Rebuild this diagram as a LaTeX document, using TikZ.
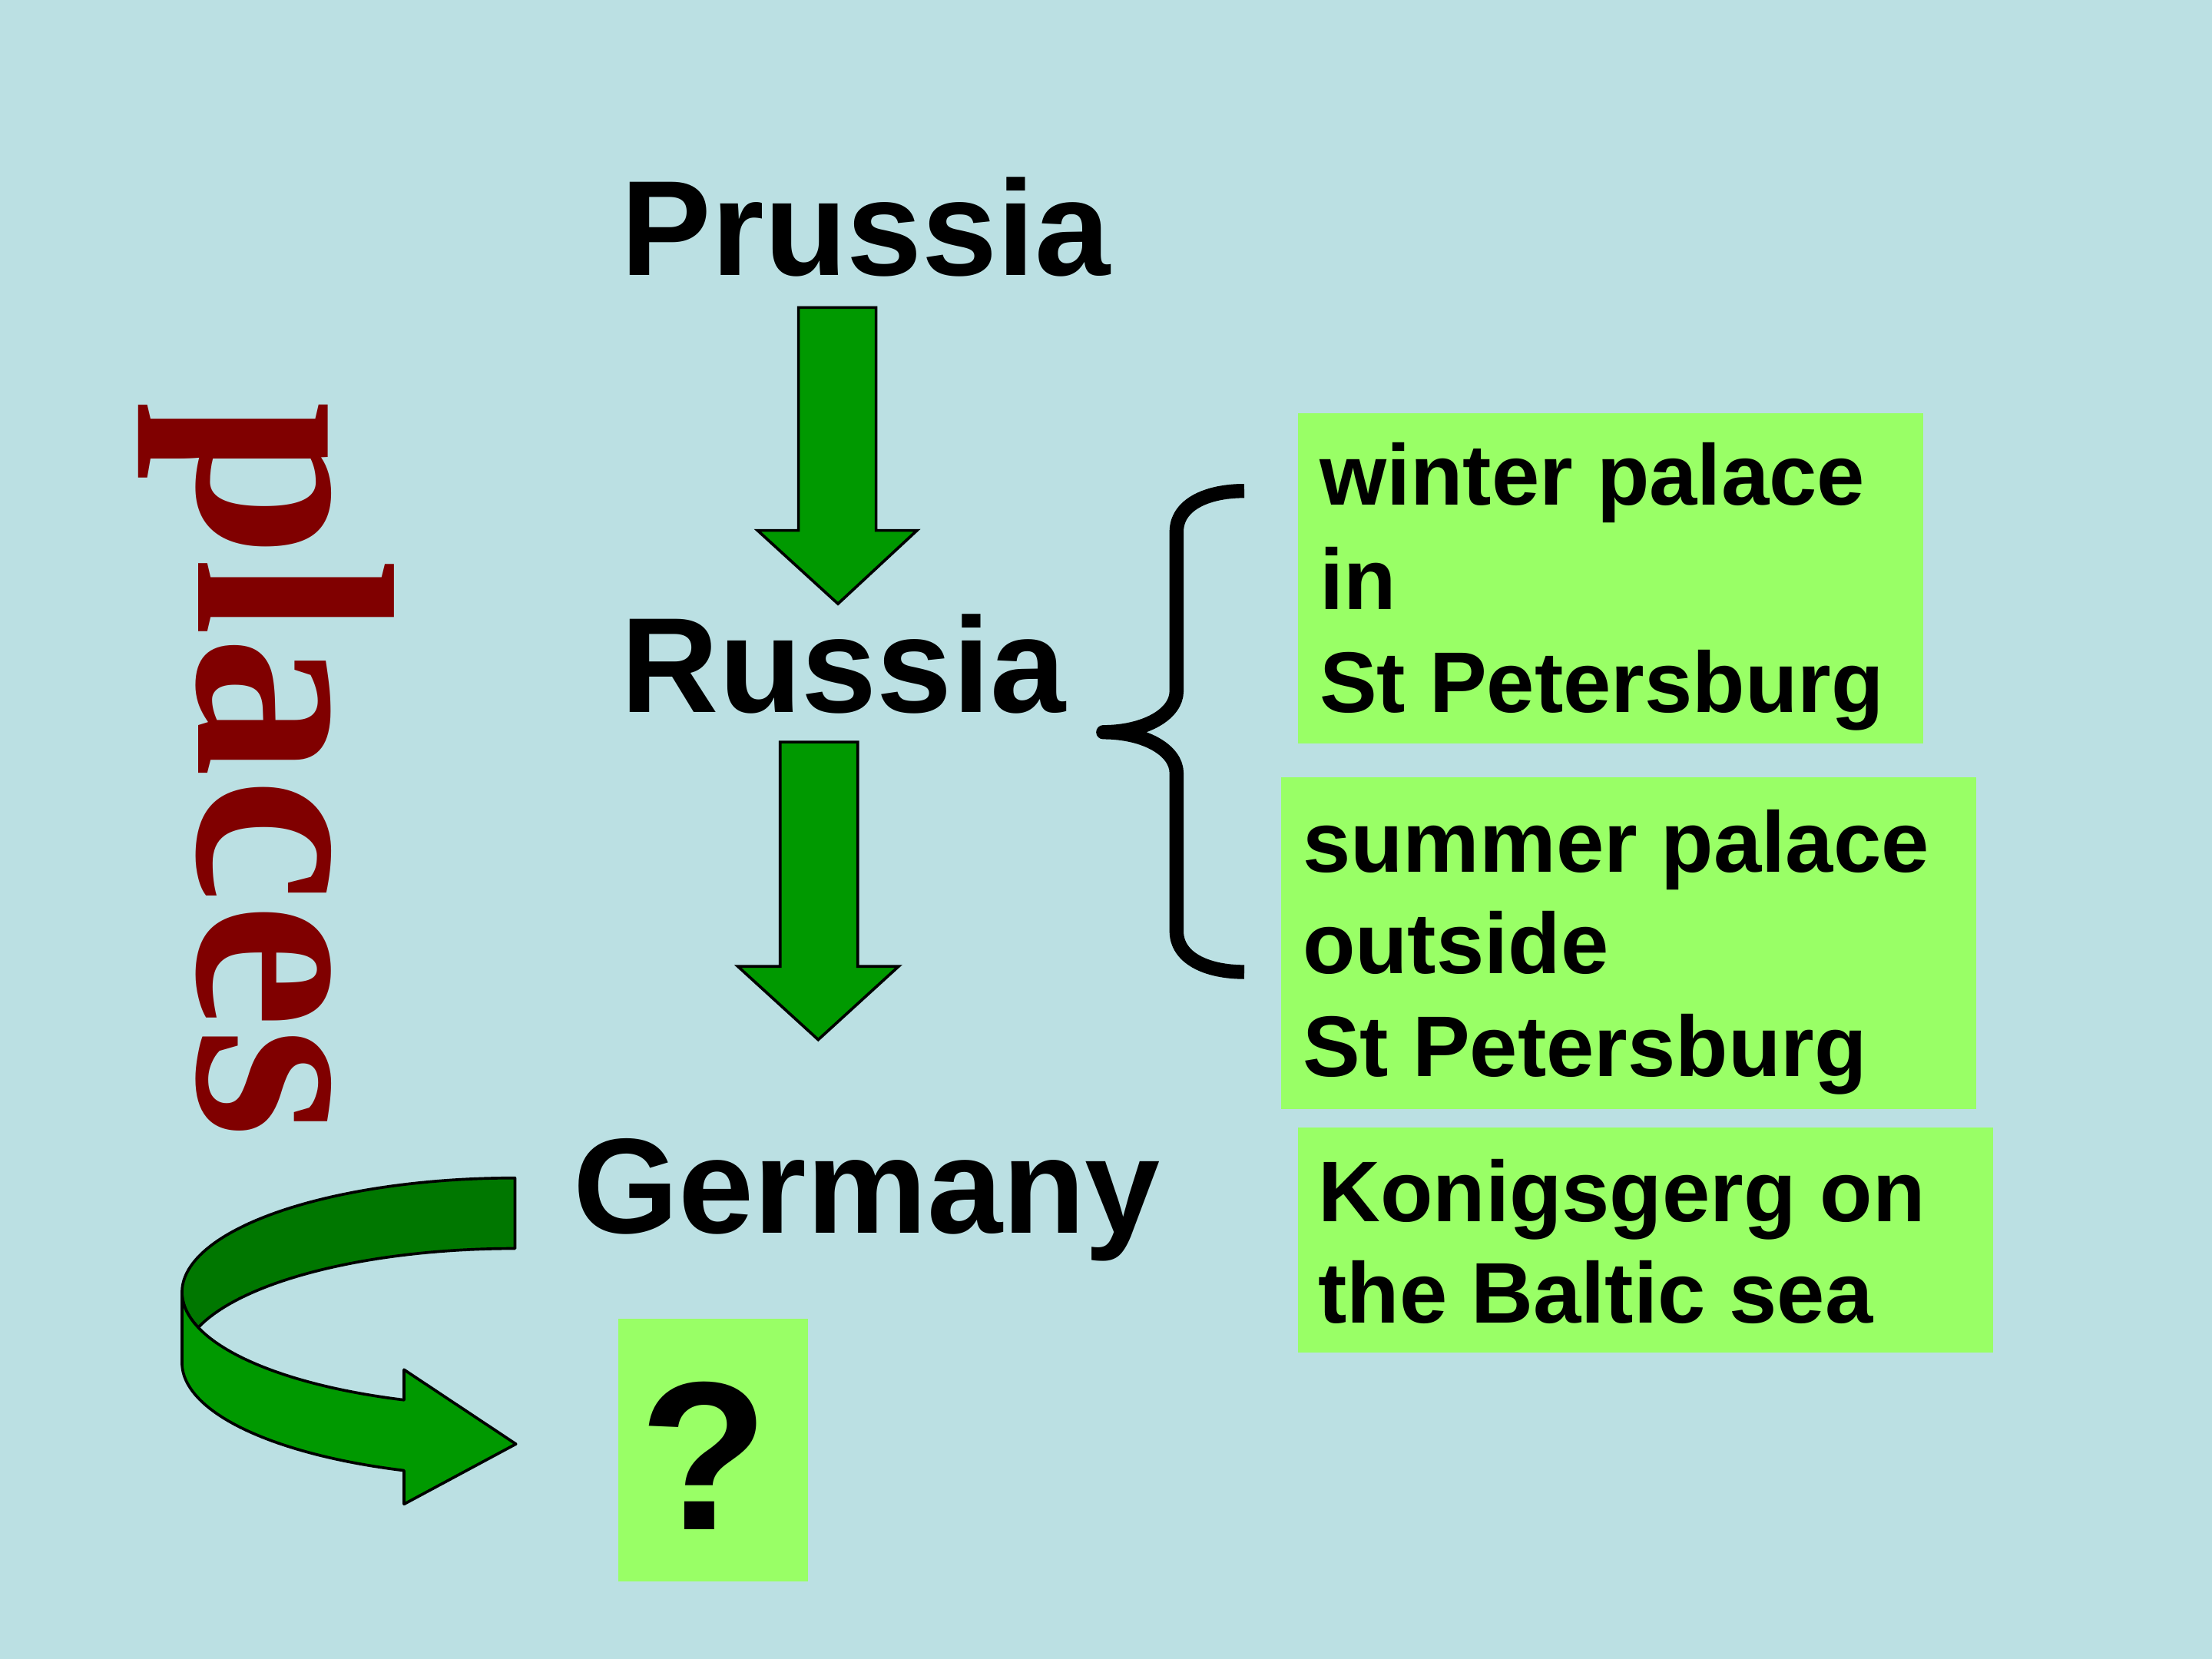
\documentclass[tikz,border=0pt]{standalone}
\usepackage{fontspec}
\setmainfont{Liberation Sans}
\newfontfamily\placesfont{Liberation Serif}
\definecolor{bgc}{HTML}{BBE0E3}
\definecolor{boxgreen}{HTML}{99FF66}
\definecolor{arrowgreen}{HTML}{009900}
\definecolor{darkgreen}{HTML}{007700}
\definecolor{placesred}{HTML}{800000}
\tikzset{
  title/.style={inner sep=0pt, anchor=base west, font=\fontsize{48}{48}\selectfont\bfseries},
  boxtext/.style={inner sep=0pt, anchor=base west, font=\fontsize{30.5}{36.5}\selectfont\bfseries},
  greenbox/.style={fill=boxgreen},
  blockarrow/.style={fill=arrowgreen, draw=black, line width=1pt, line join=miter},
  bandlight/.style={fill=arrowgreen, draw=black, line width=1pt, line join=round},
  banddark/.style={fill=darkgreen, draw=black, line width=1pt, line join=round},
  bracestyle/.style={draw=black, line width=5pt, line join=round, line cap=butt}
}
\begin{document}
\begin{tikzpicture}[x=0.5pt,y=-0.5pt]
\useasboundingbox (0,0) rectangle (1568,1176);
\fill[bgc] (0,0) rectangle (1568,1176);

% titles
\node[title] (prussia) at (440,195) {Prussia};
\node[title] (russia) at (440,505) {Russia};
\node[title] (germany) at (406,874) {Germany};

% block arrows
\filldraw[blockarrow] (566,218) -- (621,218) -- (621,376) -- (650,376) -- (594,428) -- (537,376) -- (566,376) -- cycle;
\filldraw[blockarrow] (553,526) -- (608,526) -- (608,685) -- (637,685) -- (580,737) -- (523,685) -- (553,685) -- cycle;

% brace
\coordinate (bracetop) at (882,348);
\coordinate (bracetip) at (782,519);
\coordinate (bracebot) at (882,689);
\draw[bracestyle] (bracetop) .. controls (855,348) and (834,358) .. (834,377) -- (834,490)
  .. controls (834,506) and (812,519) .. (bracetip)
  .. controls (812,519) and (834,532) .. (834,548) -- (834,660)
  .. controls (834,679) and (855,689) .. (bracebot);

% green boxes
\fill[greenbox] (920,293) rectangle (1363,527);
\fill[greenbox] (908,551) rectangle (1401,786);
\fill[greenbox] (920,799) rectangle (1413,959);
\fill[greenbox] (438,935) rectangle (573,1121);

\node[boxtext] (w1) at (935,358) {winter palace};
\node[boxtext] (w2) at (935,432) {in};
\node[boxtext] (w3) at (935,505) {St Petersburg};
\node[boxtext] (s1) at (923,618) {summer palace};
\node[boxtext] (s2) at (923,690) {outside};
\node[boxtext] (s3) at (923,763) {St Petersburg};
\node[boxtext] (k1) at (934,866) {Konigsgerg on};
\node[boxtext] (k2) at (934,938) {the Baltic sea};
\node[inner sep=0pt, anchor=base, font=\fontsize{75}{75}\selectfont\bfseries] (question) at (499,1084) {?};

% places
\node[inner sep=0pt, anchor=base west, rotate=-90, text=placesred,
      font=\placesfont\fontsize{100}{100}\selectfont\bfseries] (places) at (141,284) {places};

% curved arrow
\filldraw[banddark] plot[domain=270:162, samples=60] ({365+236*cos(\x)},{916+81*sin(\x)})
  -- plot[domain=198:270, samples=40] ({365+236*cos(\x)},{966+81*sin(\x)}) -- cycle;
\filldraw[bandlight] plot[domain=180:109.47, samples=50] ({365+236*cos(\x)},{966+81*sin(\x)})
  -- (286.4,1066.2) -- (365.7,1023.6) -- (286.4,970.9)
  -- plot[domain=109.47:180, samples=50] ({365+236*cos(\x)},{916+81*sin(\x)}) -- cycle;
\end{tikzpicture}
\end{document}
